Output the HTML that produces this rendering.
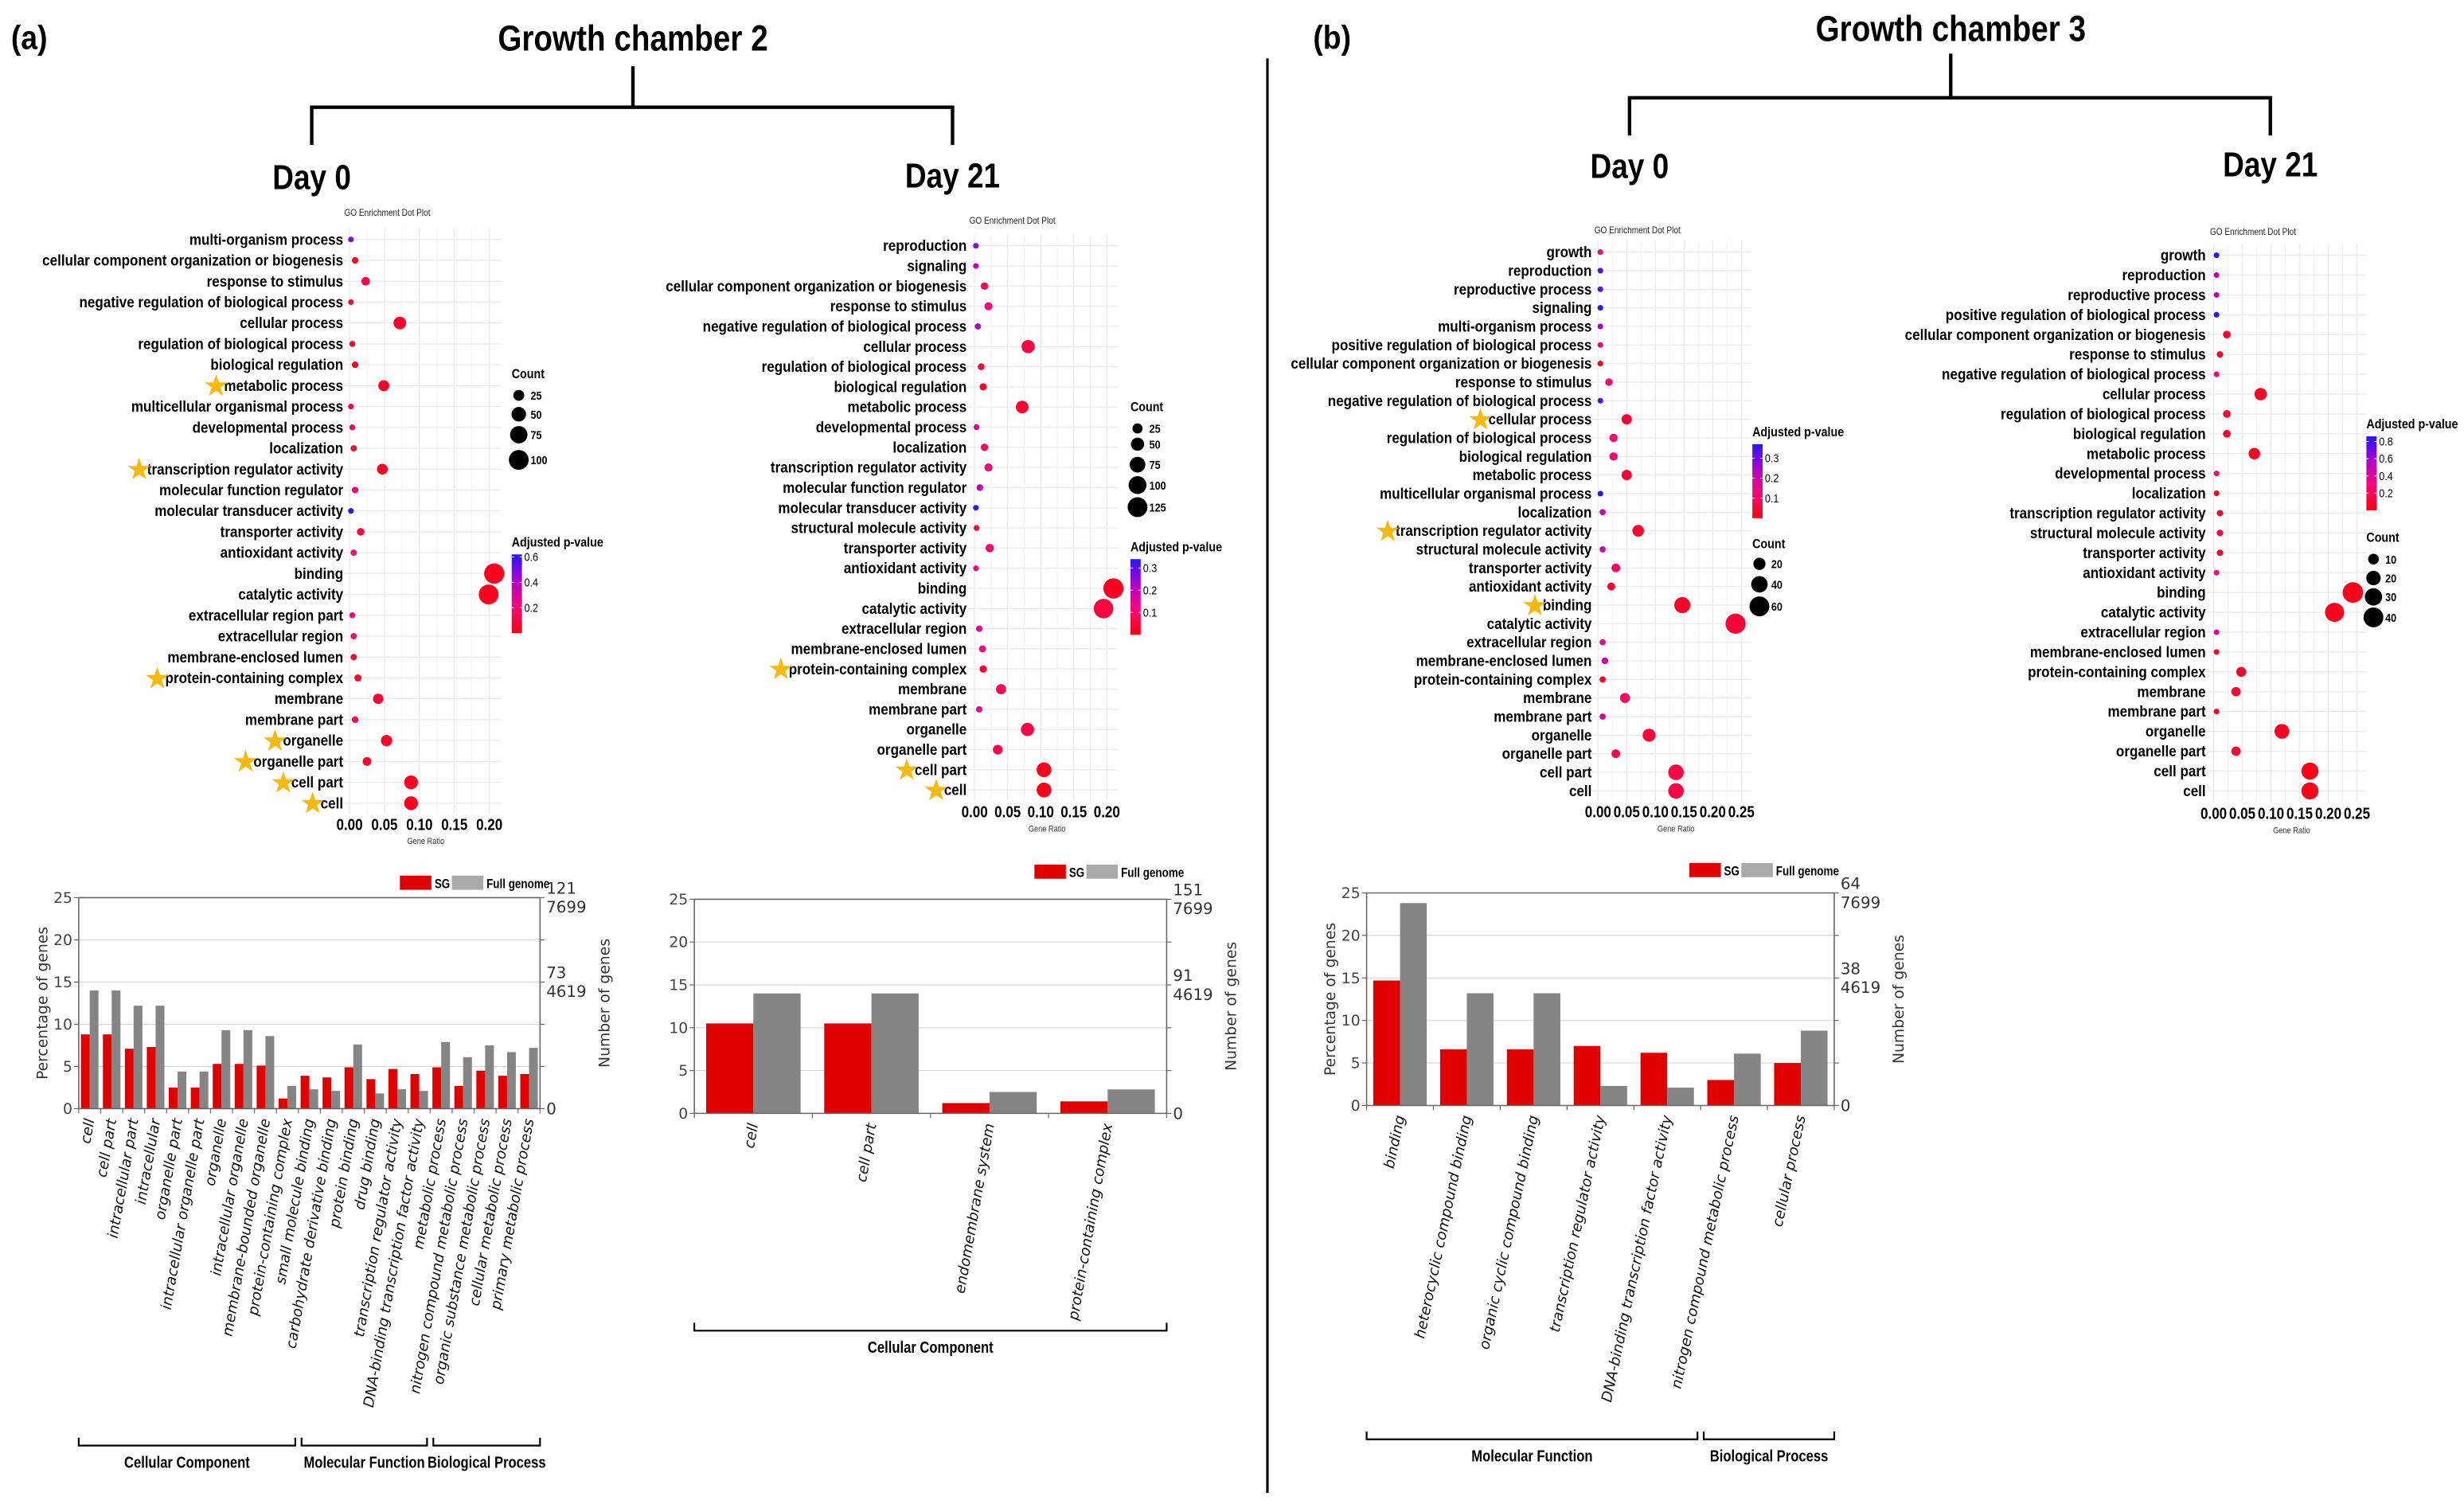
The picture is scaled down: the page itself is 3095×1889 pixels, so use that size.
<!DOCTYPE html>
<html><head><meta charset="utf-8"><style>
html,body{margin:0;padding:0;background:#fff;}
svg{display:block;}
</style></head><body>
<svg id="fig" xmlns="http://www.w3.org/2000/svg" width="3095" height="1889" viewBox="0 0 1565 955" font-family="Liberation Sans, sans-serif">
<rect x="0" y="0" width="1565" height="955" fill="#fff"/>
<g id="root"></g>
</svg>
<script>
// ---------- DATA: dot plots ----------
const A0_TERMS = ["multi-organism process","cellular component organization or biogenesis","response to stimulus","negative regulation of biological process","cellular process","regulation of biological process","biological regulation","metabolic process","multicellular organismal process","developmental process","localization","transcription regulator activity","molecular function regulator","molecular transducer activity","transporter activity","antioxidant activity","binding","catalytic activity","extracellular region part","extracellular region","membrane-enclosed lumen","protein-containing complex","membrane","membrane part","organelle","organelle part","cell part","cell"];
const A0_RATIO = [0.002,0.008,0.023,0.002,0.072,0.004,0.008,0.049,0.002,0.004,0.006,0.047,0.008,0.002,0.016,0.006,0.207,0.199,0.004,0.006,0.006,0.012,0.041,0.008,0.053,0.025,0.088,0.088];
const A0_PADJ = [0.45,0.05,0.12,0.1,0.04,0.06,0.04,0.04,0.12,0.17,0.08,0.04,0.18,0.62,0.1,0.2,0.03,0.03,0.2,0.2,0.08,0.05,0.08,0.15,0.05,0.05,0.03,0.03];
const A0_COUNT = [1,4,12,1,36,2,4,25,1,2,3,24,4,1,8,3,104,100,2,3,3,6,21,4,27,13,44,44];
const A0_STARS = ["metabolic process","transcription regulator activity","protein-containing complex","organelle","organelle part","cell part","cell"];
const A0_TICKS = [0,0.05,0.10,0.15,0.20];
const A0_TICK_LABELS = ["0.00","0.05","0.10","0.15","0.20"];
const A0_SIZE_LEGEND = [25,50,75,100];
const A0_P_TICKS = [0.6,0.4,0.2];

const A21_TERMS = ["reproduction","signaling","cellular component organization or biogenesis","response to stimulus","negative regulation of biological process","cellular process","regulation of biological process","biological regulation","metabolic process","developmental process","localization","transcription regulator activity","molecular function regulator","molecular transducer activity","structural molecule activity","transporter activity","antioxidant activity","binding","catalytic activity","extracellular region","membrane-enclosed lumen","protein-containing complex","membrane","membrane part","organelle","organelle part","cell part","cell"];
const A21_RATIO = [0.002,0.002,0.015,0.021,0.005,0.081,0.010,0.013,0.072,0.003,0.015,0.021,0.008,0.002,0.003,0.023,0.002,0.210,0.195,0.007,0.012,0.013,0.040,0.007,0.080,0.035,0.105,0.105];
const A21_PADJ = [0.26,0.2,0.08,0.12,0.23,0.06,0.05,0.03,0.04,0.15,0.1,0.12,0.2,0.33,0.05,0.1,0.12,0.02,0.05,0.15,0.13,0.03,0.08,0.13,0.06,0.07,0.01,0.01];
const A21_COUNT = [1,1,9,13,3,50,6,8,45,2,9,13,5,1,2,14,1,130,121,4,7,8,25,4,50,22,65,65];
const A21_STARS = ["protein-containing complex","cell part","cell"];
const A21_TICKS = [0,0.05,0.10,0.15,0.20];
const A21_TICK_LABELS = ["0.00","0.05","0.10","0.15","0.20"];
const A21_SIZE_LEGEND = [25,50,75,100,125];
const A21_P_TICKS = [0.3,0.2,0.1];

const B0_TERMS = ["growth","reproduction","reproductive process","signaling","multi-organism process","positive regulation of biological process","cellular component organization or biogenesis","response to stimulus","negative regulation of biological process","cellular process","regulation of biological process","biological regulation","metabolic process","multicellular organismal process","localization","transcription regulator activity","structural molecule activity","transporter activity","antioxidant activity","binding","catalytic activity","extracellular region","membrane-enclosed lumen","protein-containing complex","membrane","membrane part","organelle","organelle part","cell part","cell"];
const B0_RATIO = [0.004,0.004,0.004,0.004,0.004,0.004,0.004,0.019,0.004,0.050,0.027,0.027,0.050,0.004,0.008,0.070,0.008,0.031,0.023,0.147,0.240,0.008,0.012,0.008,0.047,0.008,0.089,0.031,0.136,0.136];
const B0_PADJ = [0.15,0.33,0.33,0.36,0.25,0.15,0.02,0.12,0.33,0.05,0.12,0.12,0.04,0.37,0.2,0.04,0.2,0.1,0.03,0.03,0.05,0.16,0.2,0.02,0.1,0.18,0.05,0.07,0.06,0.06];
const B0_COUNT = [1,1,1,1,1,1,1,5,1,13,7,7,13,1,2,18,2,8,6,38,62,2,3,2,12,2,23,8,35,35];
const B0_STARS = ["cellular process","transcription regulator activity","binding"];
const B0_TICKS = [0,0.05,0.10,0.15,0.20,0.25];
const B0_TICK_LABELS = ["0.00","0.05","0.10","0.15","0.20","0.25"];
const B0_SIZE_LEGEND = [20,40,60];
const B0_P_TICKS = [0.3,0.2,0.1];

const B21_TERMS = ["growth","reproduction","reproductive process","positive regulation of biological process","cellular component organization or biogenesis","response to stimulus","negative regulation of biological process","cellular process","regulation of biological process","biological regulation","metabolic process","developmental process","localization","transcription regulator activity","structural molecule activity","transporter activity","antioxidant activity","binding","catalytic activity","extracellular region","membrane-enclosed lumen","protein-containing complex","membrane","membrane part","organelle","organelle part","cell part","cell"];
const B21_RATIO = [0.005,0.005,0.005,0.005,0.023,0.011,0.005,0.082,0.023,0.023,0.071,0.005,0.005,0.011,0.011,0.011,0.005,0.243,0.211,0.005,0.005,0.048,0.039,0.005,0.119,0.039,0.168,0.168];
const B21_PADJ = [0.85,0.5,0.5,0.85,0.1,0.08,0.3,0.05,0.1,0.1,0.05,0.3,0.05,0.1,0.12,0.08,0.3,0.03,0.04,0.4,0.05,0.06,0.1,0.05,0.04,0.1,0.02,0.02];
const B21_COUNT = [1,1,1,1,4,2,1,14,4,4,12,1,1,2,2,2,1,43,37,1,1,8,7,1,21,7,29,29];
const B21_STARS = [];
const B21_TICKS = [0,0.05,0.10,0.15,0.20,0.25];
const B21_TICK_LABELS = ["0.00","0.05","0.10","0.15","0.20","0.25"];
const B21_SIZE_LEGEND = [10,20,30,40];
const B21_P_TICKS = [0.8,0.6,0.4,0.2];

// ---------- DATA: bar charts ----------
const BA0_CATS = ["cell","cell part","intracellular part","intracellular","organelle part","intracellular organelle part","organelle","intracellular organelle","membrane-bounded organelle","protein-containing complex","small molecule binding","carbohydrate derivative binding","protein binding","drug binding","transcription regulator activity","DNA-binding transcription factor activity","metabolic process","nitrogen compound metabolic process","organic substance metabolic process","cellular metabolic process","primary metabolic process"];
const BA0_SG = [8.8,8.8,7.1,7.3,2.5,2.5,5.3,5.3,5.1,1.2,3.9,3.7,4.9,3.5,4.7,4.1,4.9,2.7,4.5,3.9,4.1];
const BA0_FULL = [14.0,14.0,12.2,12.2,4.4,4.4,9.3,9.3,8.6,2.7,2.3,2.1,7.6,1.8,2.3,2.1,7.9,6.1,7.5,6.7,7.2];
const BA0_GROUPS = ["Cellular Component","Molecular Function","Biological Process"];
const BA0_GROUP_SIZES = [10,6,5];
const BA0_RIGHT = ["121","7699","73","4619","0"];

const BA21_CATS = ["cell","cell part","endomembrane system","protein-containing complex"];
const BA21_SG = [10.5,10.5,1.2,1.4];
const BA21_FULL = [14.0,14.0,2.5,2.8];
const BA21_GROUPS = ["Cellular Component"];
const BA21_GROUP_SIZES = [4];
const BA21_RIGHT = ["151","7699","91","4619","0"];

const BB0_CATS = ["binding","heterocyclic compound binding","organic cyclic compound binding","transcription regulator activity","DNA-binding transcription factor activity","nitrogen compound metabolic process","cellular process"];
const BB0_SG = [14.7,6.6,6.6,7.0,6.2,3.0,5.0];
const BB0_FULL = [23.8,13.2,13.2,2.3,2.1,6.1,8.8];
const BB0_GROUPS = ["Molecular Function","Biological Process"];
const BB0_GROUP_SIZES = [5,2];
const BB0_RIGHT = ["64","7699","38","4619","0"];

const BAR_Y_TICKS = [0,5,10,15,20,25];

// ---------- helpers ----------
const NS = "http://www.w3.org/2000/svg";
const root = document.getElementById('root');
function mk(tag, attrs, parent, txt){
  const e = document.createElementNS(NS, tag);
  for (const k in attrs) e.setAttribute(k, attrs[k]);
  if (txt !== undefined) e.textContent = txt;
  (parent || root).appendChild(e);
  return e;
}
function hex2rgb(h){return [parseInt(h.substr(1,2),16),parseInt(h.substr(3,2),16),parseInt(h.substr(5,2),16)];}
const CSTOPS = [[0,"#ff0010"],[0.35,"#f5087a"],[0.65,"#b400c8"],[1,"#2a14ff"]];
function pcolor(t){
  t = Math.max(0, Math.min(1, t));
  for (let i=0;i<CSTOPS.length-1;i++){
    const a=CSTOPS[i], b=CSTOPS[i+1];
    if (t<=b[0]){
      const f=(t-a[0])/(b[0]-a[0]); const ca=hex2rgb(a[1]), cb=hex2rgb(b[1]);
      return "rgb("+ca.map((v,j)=>Math.round(v+(cb[j]-v)*f)).join(",")+")";
    }
  }
  return CSTOPS[CSTOPS.length-1][1];
}
function condText(x, y, str, size, anchor, sx, parent, weight, fill){
  const t = mk('text', {transform:`translate(${x},${y}) scale(${sx},1)`, 'font-size':size, 'text-anchor':anchor||'start', 'font-weight':weight||'bold', fill:fill||'#000', 'font-family':'Liberation Sans, sans-serif'}, parent, str);
  return t;
}

// ---------- dot plot ----------
function dotPlot(name, terms, ratio, padj, count, stars, ticks, tickLabels, sizeLeg, pTicks, L){
  const g = mk('g', {});
  
  
  const xs = v => L.x0 + v*L.scale;
  const ys = i => L.yTop + i*L.step;
  const n = terms.length;
  const px0 = xs(-0.012), px1 = xs(ticks[ticks.length-1]+0.017);
  const py0 = ys(0)-7, py1 = ys(n-1)+7;
  const grid = mk('g', {}, g);
  
  
  for (let i=0;i<ticks.length;i++){
    mk('line',{x1:xs(ticks[i]),x2:xs(ticks[i]),y1:py0,y2:py1,stroke:'#ebebeb','stroke-width':0.7},grid);
    if (i<ticks.length-1){ const m=(ticks[i]+ticks[i+1])/2; mk('line',{x1:xs(m),x2:xs(m),y1:py0,y2:py1,stroke:'#f3f3f3','stroke-width':0.5},grid); }
  }
  for (let i=0;i<n;i++) mk('line',{x1:px0,x2:px1,y1:ys(i),y2:ys(i),stroke:'#ebebeb','stroke-width':0.7},grid);
  const tt = condText(L.titleX, L.titleY, "GO Enrichment Dot Plot", 6, 'middle', 0.85, g, 'normal', '#222');
  
  
  const maxC = sizeLeg[sizeLeg.length-1];
  const rad = c => Math.sqrt(1.8*1.8 + (Math.max(c-1,0)/(maxC-1))*(L.rmax*L.rmax-1.8*1.8));
  for (let i=0;i<n;i++){
    const lab = condText(L.labelX, ys(i)+3.3, terms[i], 9.8, 'end', 0.88, g);
    
    
    const c = mk('circle',{cx:xs(ratio[i]),cy:ys(i),r:rad(count[i]),fill:pcolor(padj[i]/L.pmax)},g);
    
    
    if (stars.indexOf(terms[i])>=0){
      const w = lab.getComputedTextLength()*0.88;
      const s = mk('text',{x:L.labelX - w - 5, y:ys(i)+6.5, 'font-size':19, 'text-anchor':'middle', fill:'#f7b90d','font-family':'DejaVu Sans, sans-serif'},g,'\u2605');
      
      
    }
  }
  for (let i=0;i<ticks.length;i++){
    const t = condText(xs(ticks[i]), L.tickY, tickLabels[i], 10.5, 'middle', 0.82, g);
    
    
  }
  const xt = condText((xs(ticks[0])+xs(ticks[ticks.length-1]))/2+4, L.tickY+9, "Gene Ratio", 5.5, 'middle', 0.85, g, 'normal', '#333');
  
  
  // count legend
  const cl = mk('g',{},g);
  
  
  condText(L.cX, L.cY, "Count", 8.5, 'start', 0.85, cl);
  for (let i=0;i<sizeLeg.length;i++){
    mk('circle',{cx:L.cX+4.5, cy:L.cItemY[i], r:rad(sizeLeg[i]), fill:'#000'},cl);
    condText(L.cX+12, L.cItemY[i]+2.8, String(sizeLeg[i]), 7.5, 'start', 0.85, cl);
  }
  // p legend
  const pl = mk('g',{},g);
  
  
  condText(L.pX, L.pY, "Adjusted p-value", 8.5, 'start', 0.85, pl);
  const gid = 'grad_'+name;
  const defs = mk('defs',{},pl);
  const lg = mk('linearGradient',{id:gid,x1:0,y1:1,x2:0,y2:0},defs);
  for (const s of CSTOPS) mk('stop',{offset:s[0],'stop-color':s[1]},lg);
  mk('rect',{x:L.pX, y:L.barY0, width:6.5, height:L.barY1-L.barY0, fill:`url(#${gid})`},pl);
  const pyScale = v => L.barY1 - (v/L.pmax)*(L.barY1-L.barY0);
  for (const v of pTicks){
    mk('line',{x1:L.pX,x2:L.pX+1.5,y1:pyScale(v),y2:pyScale(v),stroke:'#fff','stroke-width':0.5},pl);
    mk('line',{x1:L.pX+5,x2:L.pX+6.5,y1:pyScale(v),y2:pyScale(v),stroke:'#fff','stroke-width':0.5},pl);
    condText(L.pX+8, pyScale(v)+2.6, v.toFixed(1), 7.5, 'start', 0.85, pl, 'normal');
  }
}

dotPlot('dotplot-gc2-day0', A0_TERMS, A0_RATIO, A0_PADJ, A0_COUNT, A0_STARS, A0_TICKS, A0_TICK_LABELS, A0_SIZE_LEGEND, A0_P_TICKS,
  {x0:222, scale:444, yTop:152, step:13.26, labelX:218, titleX:246, titleY:137, tickY:527, rmax:6.3, pmax:0.62,
   cX:325, cY:240, cItemY:[251,263,276,292], pX:325, pY:347, barY0:352, barY1:402});
dotPlot('dotplot-gc2-day21', A21_TERMS, A21_RATIO, A21_PADJ, A21_COUNT, A21_STARS, A21_TICKS, A21_TICK_LABELS, A21_SIZE_LEGEND, A21_P_TICKS,
  {x0:619, scale:420, yTop:156, step:12.8, labelX:614, titleX:643, titleY:142, tickY:519, rmax:6.3, pmax:0.34,
   cX:718, cY:261, cItemY:[272,282,295,308,322], pX:718, pY:350, barY0:355, barY1:403});
dotPlot('dotplot-gc3-day0', B0_TERMS, B0_RATIO, B0_PADJ, B0_COUNT, B0_STARS, B0_TICKS, B0_TICK_LABELS, B0_SIZE_LEGEND, B0_P_TICKS,
  {x0:1015, scale:364, yTop:160, step:11.8, labelX:1011, titleX:1040, titleY:148, tickY:519, rmax:6.3, pmax:0.37,
   cX:1113, cY:348, cItemY:[358,371,385], pX:1113, pY:277, barY0:282, barY1:329});
dotPlot('dotplot-gc3-day21', B21_TERMS, B21_RATIO, B21_PADJ, B21_COUNT, B21_STARS, B21_TICKS, B21_TICK_LABELS, B21_SIZE_LEGEND, B21_P_TICKS,
  {x0:1406, scale:364, yTop:162, step:12.6, labelX:1401, titleX:1431, titleY:149, tickY:520, rmax:6.3, pmax:0.86,
   cX:1503, cY:344, cItemY:[355,367,379,392], pX:1503, pY:272, barY0:277, barY1:324});

// ---------- bar chart ----------
function barChart(name, cats, sg, full, groups, groupSizes, rightLabels, L){
  const g = mk('g', {});
  
  
  const n = cats.length;
  const slot = (L.x1-L.x0)/n;
  const ys = v => L.yBot - (v/25)*(L.yBot-L.yTop);
  for (const v of BAR_Y_TICKS){
    if (v>0 && v<25) mk('line',{x1:L.x0,x2:L.x1,y1:ys(v),y2:ys(v),stroke:'#d6d6d6','stroke-width':0.6},g);
    mk('line',{x1:L.x0-3,x2:L.x0,y1:ys(v),y2:ys(v),stroke:'#666','stroke-width':0.6},g);
    mk('line',{x1:L.x1,x2:L.x1+3,y1:ys(v),y2:ys(v),stroke:'#666','stroke-width':0.6},g);
    const t = mk('text',{x:L.x0-4,y:ys(v)+3.3,'font-size':9.5,'text-anchor':'end',fill:'#444','font-family':'DejaVu Sans, sans-serif'},g,String(v));
    
    
  }
  for (let i=0;i<n;i++){
    const sx = L.x0 + i*slot;
    const r = mk('rect',{x:sx+slot*0.1, y:ys(sg[i]), width:slot*0.4, height:ys(0)-ys(sg[i]), fill:'#e00000'},g);
    
    
    const q = mk('rect',{x:sx+slot*0.5, y:ys(full[i]), width:slot*0.4, height:ys(0)-ys(full[i]), fill:'#858585'},g);
    
    
    mk('line',{x1:sx,x2:sx,y1:L.yBot,y2:L.yBot+3,stroke:'#666','stroke-width':0.6},g);
    const cx = sx + slot*0.5 + 3;
    const t = mk('text',{transform:`translate(${cx},${L.yBot+7}) rotate(${L.rot})`,'font-size':L.catFont,'text-anchor':'end','font-style':'italic',fill:'#111','font-family':'DejaVu Sans, sans-serif'},g,cats[i]);
    
    
  }
  mk('line',{x1:L.x1,x2:L.x1,y1:L.yBot,y2:L.yBot+3,stroke:'#666','stroke-width':0.6},g);
  mk('line',{x1:L.x0,x2:L.x1,y1:L.yTop,y2:L.yTop,stroke:'#666','stroke-width':0.8},g);
  mk('line',{x1:L.x0,x2:L.x1,y1:L.yBot,y2:L.yBot,stroke:'#666','stroke-width':0.8},g);
  mk('line',{x1:L.x0,x2:L.x0,y1:L.yTop,y2:L.yBot,stroke:'#666','stroke-width':0.8},g);
  mk('line',{x1:L.x1,x2:L.x1,y1:L.yTop,y2:L.yBot,stroke:'#666','stroke-width':0.8},g);
  const ry = [ys(25)-6, ys(25)+6, ys(15)-6, ys(15)+6, ys(0)];
  for (let i=0;i<rightLabels.length;i++){
    const t = mk('text',{x:L.x1+4,y:ry[i]+3.5,'font-size':10,fill:'#333','font-family':'DejaVu Sans, sans-serif'},g,rightLabels[i]);
    
    
  }
  const ymid = (L.yTop+L.yBot)/2;
  const yr = mk('text',{transform:`translate(${L.x1+44},${ymid}) rotate(-90)`,'font-size':9.5,'text-anchor':'middle',fill:'#333','font-family':'DejaVu Sans, sans-serif'},g,'Number of genes');
  
  
  if (L.leftTitle){
    const yl = mk('text',{transform:`translate(${L.x0-20},${ymid}) rotate(-90)`,'font-size':9.5,'text-anchor':'middle',fill:'#333','font-family':'DejaVu Sans, sans-serif'},g,'Percentage of genes');
    
    
  }
  const lg = mk('g',{},g);
  
  
  mk('rect',{x:L.legX,y:L.legY,width:20,height:9,fill:'#e00000'},lg);
  condText(L.legX+22, L.legY+8, 'SG', 8.5, 'start', 0.8, lg);
  mk('rect',{x:L.legX+33,y:L.legY,width:20,height:9,fill:'#aaaaaa'},lg);
  condText(L.legX+55, L.legY+8, 'Full genome', 8.5, 'start', 0.8, lg);
  let start = 0;
  for (let k=0;k<groups.length;k++){
    const gx0 = L.x0 + start*slot + (k>0?2:0);
    const gx1 = L.x0 + (start+groupSizes[k])*slot - (k<groups.length-1?2:0);
    const bg = mk('g',{},g);
    
    
    mk('polyline',{points:`${gx0},${L.brY-5} ${gx0},${L.brY} ${gx1},${L.brY} ${gx1},${L.brY-5}`,fill:'none',stroke:'#000','stroke-width':1.1},bg);
    condText((gx0+gx1)/2, L.brY+14, groups[k], 10.5, 'middle', 0.8, bg);
    start += groupSizes[k];
  }
}

barChart('bar-gc2-day0', BA0_CATS, BA0_SG, BA0_FULL, BA0_GROUPS, BA0_GROUP_SIZES, BA0_RIGHT,
  {x0:50, x1:343, yTop:570, yBot:704, rot:-80, catFont:9.2, legX:254, legY:556, brY:918, leftTitle:true});
barChart('bar-gc2-day21', BA21_CATS, BA21_SG, BA21_FULL, BA21_GROUPS, BA21_GROUP_SIZES, BA21_RIGHT,
  {x0:441, x1:741, yTop:571, yBot:707, rot:-80, catFont:9.2, legX:657, legY:549, brY:845, leftTitle:false});
barChart('bar-gc3-day0', BB0_CATS, BB0_SG, BB0_FULL, BB0_GROUPS, BB0_GROUP_SIZES, BB0_RIGHT,
  {x0:868, x1:1165, yTop:567, yBot:702, rot:-78, catFont:9.2, legX:1073, legY:548, brY:914, leftTitle:true});

// ---------- headers ----------
function header(label, lx, title, tx, ty, bx0, bx1, by0, by1, by2, d0y, d21y){
  const g = mk('g',{});
  
  
  const pl = condText(lx, 31, label, 21, 'start', 0.9, g);
  
  
  const t = condText(tx, ty, title, 23, 'middle', 0.85, g);
  
  
  mk('polyline',{points:`${bx0},${by2} ${bx0},${by1} ${bx1},${by1} ${bx1},${by2}`,fill:'none',stroke:'#000','stroke-width':2.2},g);
  mk('line',{x1:tx,x2:tx,y1:by0,y2:by1,stroke:'#000','stroke-width':2.2},g);
  const d0 = condText(bx0, d0y, 'Day 0', 22, 'middle', 0.85, g);
  
  
  const d21 = condText(bx1, d21y, 'Day 21', 22, 'middle', 0.85, g);
  
  
}
header('(a)', 7, 'Growth chamber 2', 402, 32, 198, 605, 42, 68, 92, 120, 119);
header('(b)', 834, 'Growth chamber 3', 1239, 26, 1035, 1442, 34, 62, 86, 113, 112);
const div = mk('line',{x1:805,x2:805,y1:37,y2:948,stroke:'#000','stroke-width':1.6});


</script>
</body></html>
